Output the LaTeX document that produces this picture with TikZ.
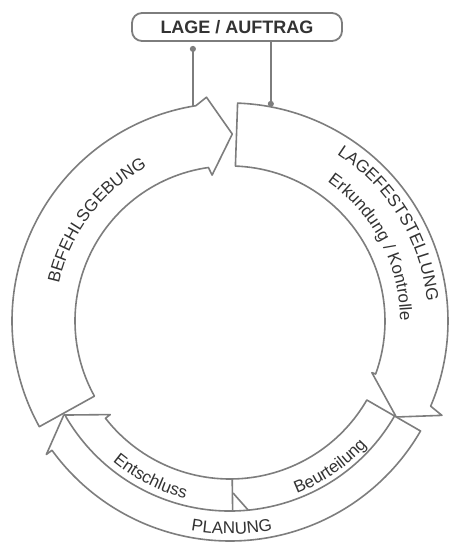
\documentclass[tikz,border=0pt]{standalone}
\usepackage{fontspec}
\setsansfont{Liberation Sans}
\usepackage{xcolor}
\definecolor{cycleline}{HTML}{7D7D7D}
\definecolor{cycletext}{HTML}{333333}
\usepackage{tikz}
\usetikzlibrary{arrows.meta,decorations.text}
\newcommand{\cyclefont}{\sffamily\fontsize{8.5}{10}\selectfont}
\tikzset{
  cycleband/.style={
    draw=cycleline, fill=white, line width=0.8pt, line join=round
  },
  cyclesplit/.style={draw=cycleline, line width=0.8pt},
  cyclelabel/.style={
    decorate, decoration={text along path, text align=center,
      text color=cycletext, text={|\cyclefont|#1}}
  },
  lagebox/.style={
    draw=cycleline, fill=white, rounded corners=5pt, line width=0.9pt,
    minimum width=105pt, minimum height=14pt, inner sep=2pt,
    font=\sffamily\bfseries\fontsize{9}{11}\selectfont, text=cycletext
  },
  lagelink/.style={draw=cycleline, line width=0.8pt, -{Circle[length=3pt]}}
}

\begin{document}
\begin{tikzpicture}[x=0.5pt, y=0.5pt]
  \useasboundingbox (-230,-233) rectangle (223,321);

  % Befehlsgebung
  \draw[cycleband] (209:155) -- (209:218)
    arc[start angle=209, end angle=99, radius=218]
    -- (96:225) -- (89.3:187) -- (97:147) -- (98:155)
    arc[start angle=98, end angle=209, radius=155] -- cycle;
  % Lagefeststellung
  \draw[cycleband] (88:155) -- (88:218)
    arc[start angle=88, end angle=-23, radius=218]
    -- (-24:232) -- (-30:192) -- (-20:151) -- (-20:155)
    arc[start angle=-20, end angle=88, radius=155] -- cycle;
  % Planung
  \draw[cycleband] (-30:158) -- (-30:220)
    arc[start angle=-30, end angle=-144, radius=220]
    -- (-144:227) -- (-150.5:191) -- (-142:152) -- (-142:158)
    arc[start angle=-142, end angle=-30, radius=158] -- cycle;
  \draw[cyclesplit] (-30:190) arc[start angle=-30, end angle=-150, radius=190];
  \draw[cyclesplit] (-89.2:158) -- (-89.2:190);
  \draw[cyclesplit] (-89:172) -- (-84.5:190);

  \path[cyclelabel=BEFEHLSGEBUNG]
    (178:175) arc[start angle=178, end angle=108, radius=175];
  \path[cyclelabel=LAGEFESTSTELLUNG]
    (66:198) arc[start angle=66, end angle=-3, radius=198];
  \path[cyclelabel=Erkundung / Kontrolle]
    (60:170) arc[start angle=60, end angle=-5, radius=170];
  \path[cyclelabel=Beurteilung]
    (-72:185) arc[start angle=-72, end angle=-39, radius=185];
  \path[cyclelabel=Entschluss]
    (-133:183) arc[start angle=-133, end angle=-101, radius=183];
  \path[cyclelabel=PLANUNG]
    (-105:213) arc[start angle=-105, end angle=-74, radius=213];

  \node[lagebox] (lage) at (7,294) {LAGE / AUFTRAG};
  \coordinate (befehlTop) at (99.8:218);
  \coordinate (lageTop)   at (79.2:218);

  \draw[lagelink, shorten >=2pt] (befehlTop) -- (befehlTop |- lage.south);
  \draw[lagelink] (lage.south -| lageTop) -- (lageTop);
\end{tikzpicture}
\end{document}
